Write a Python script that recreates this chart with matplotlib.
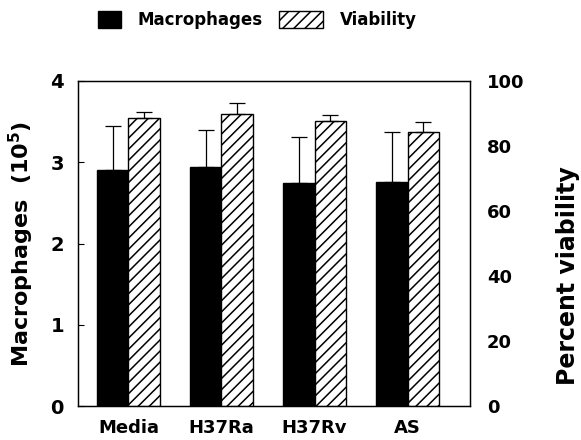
#!/usr/bin/env python3
import numpy as np
import matplotlib.pyplot as plt
import matplotlib.patches as mpatches
from matplotlib.legend_handler import HandlerPatch, update_from_first_child

plt.rcParams['font.family'] = ['DejaVu Sans']
plt.rcParams['font.weight'] = 'bold'
plt.rcParams['hatch.linewidth'] = 1.1

# data
groups = ['Media', 'H37Ra', 'H37Rv', 'AS']
macrophages = [2.90, 2.94, 2.75, 2.76]       # x10^5
macrophages_err = [0.54, 0.46, 0.56, 0.61]
viability = [88.5, 89.7, 87.6, 84.3]          # percent
viability_err = [2.1, 3.4, 1.9, 3.1]

x = np.arange(len(groups))
w = 0.34

fig = plt.figure(figsize=(5.81, 4.4), dpi=100)
ax = fig.add_axes([0.134, 0.077, 0.675, 0.739])
ax2 = ax.twinx()

b1 = ax.bar(x - w / 2, macrophages, w, color='black', edgecolor='black',
            label='Macrophages')
ax.errorbar(x - w / 2, macrophages, yerr=[np.zeros(len(x)), macrophages_err],
            fmt='none', ecolor='black', elinewidth=0.9, capsize=6, capthick=0.9)

b2 = ax2.bar(x + w / 2, viability, w, color='white', edgecolor='black',
             hatch='///', linewidth=1.0, label='Viability')
ax2.errorbar(x + w / 2, viability, yerr=[np.zeros(len(x)), viability_err],
             fmt='none', ecolor='black', elinewidth=0.9, capsize=6, capthick=0.9)

ax.set_xlim(-0.543, 3.67)
ax.set_ylim(0, 4)
ax2.set_ylim(0, 100)
ax.set_yticks([0, 1, 2, 3, 4])
ax2.set_yticks([0, 20, 40, 60, 80, 100])
ax.set_xticks(x)
ax.set_xticklabels(groups)

ax.tick_params(axis='x', length=0, pad=9, labelsize=13)
ax.tick_params(axis='y', direction='in', length=4, pad=10, labelsize=14)
ax2.tick_params(axis='y', length=0, pad=12, labelsize=13)
for s in ax.spines.values():
    s.set_linewidth(0.9)
for s in ax2.spines.values():
    s.set_linewidth(0.9)

ax.set_ylabel('Macrophages  (10$^{\\mathbf{5}}$)', fontsize=16, fontweight='bold',
              labelpad=10)
ax2.set_ylabel('Percent viability', fontsize=17, fontweight='bold', labelpad=23,
               y=0.40)


# the black key in the legend is narrower than the hatched one
def narrow_box(legend, orig_handle, xdescent, ydescent, width, height, fontsize):
    return mpatches.Rectangle((-xdescent + 0.48 * width, -ydescent),
                              0.52 * width, height)


fig.legend(handles=[b1, b2], loc='center', bbox_to_anchor=(0.425, 0.955),
           ncol=2, frameon=False, handlelength=2.65, handleheight=1.2,
           columnspacing=1.0, handletextpad=1.0, fontsize=12,
           handler_map={b1: HandlerPatch(patch_func=narrow_box,
                                         update_func=update_from_first_child)})

fig.savefig('out.png', dpi=100)
